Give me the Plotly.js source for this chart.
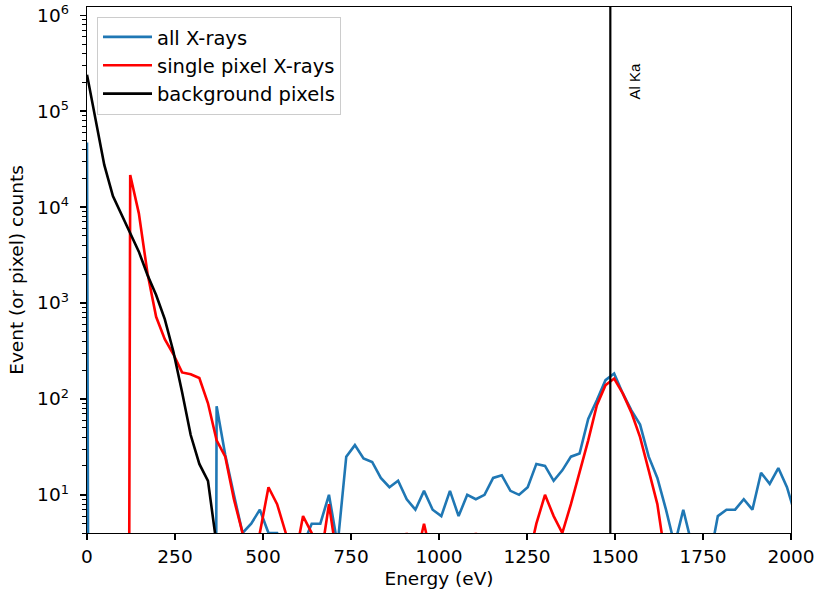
<!DOCTYPE html>
<html>
<head>
<meta charset="utf-8">
<script src="https://cdn.plot.ly/plotly-3.0.1.min.js"></script>
<style>
  html, body { margin: 0; padding: 0; background: #ffffff; }
  #chart { width: 815px; height: 594px; }
</style>
</head>
<body>
<div id="chart"></div>
<script>
// Energy histogram: one bin every BIN_EV electron-volts, starting at 0 eV.
const BIN_EV = 24.55;

// Counts per bin, all detected X-ray events
const allXrays = [
  47000, 0, 0, 0, 0, 0, 0, 0, 0, 0,
  0, 0, 0, 0, 0, 84, 26, 10, 4, 5,
  7, 4, 4, 2, 2, 3, 5, 5, 10, 3,
  25, 33, 24, 22, 15, 12, 14, 9, 7, 11,
  7, 6, 11, 6, 10, 9, 10, 15, 16, 11,
  10, 12, 21, 20, 14, 18, 25, 27, 62, 97,
  157, 184, 114, 76, 54, 25, 15, 7, 3, 7,
  3, 2, 2, 6, 7, 7, 9, 7, 17, 13,
  19, 12, 6
];

// Counts per bin, single pixel X-ray events
const singlePixel = [
  0, 0, 0, 0, 0, 21600, 8600, 2040, 718, 420,
  292, 189, 181, 165, 90, 37, 25, 9, 4, 1,
  4, 12, 8, 4, 2, 6, 4, 2, 8, 2,
  1, 2, 1, 2, 1, 1, 2, 4, 2, 5,
  2, 1, 2, 1, 2, 4, 2, 1, 1, 2,
  1, 2, 5, 10, 6, 4, 8, 17, 37, 86,
  139, 163, 114, 72, 40, 18, 8, 2, 0, 0,
  0, 0, 0, 0, 0, 0, 0, 0, 0, 0,
  0, 0, 0
];

// Counts per bin, background pixels
const background = [
  240000, 85000, 27500, 13000, 8300, 5500, 3430, 1960, 1210, 680,
  310, 118, 42, 21, 14, 3, 0, 0, 0, 0,
  0, 0, 0, 0, 0, 0, 0, 0, 0, 0,
  0, 0, 0, 0, 0, 0, 0, 0, 0, 0,
  0, 0, 0, 0, 0, 0, 0, 0, 0, 0,
  0, 0, 0, 0, 0, 0, 0, 0, 0, 0,
  0, 0, 0, 0, 0, 0, 0, 0, 0, 0,
  0, 0, 0, 0, 0, 0, 0, 0, 0, 0,
  0, 0, 0
];

const seriesNames = ['all X-rays', 'single pixel X-rays', 'background pixels'];
const seriesColors = ['#1f77b4', '#ff0000', '#000000'];

// Reference emission line
const AL_KA_EV = 1486.7;
const AL_KA_LABEL = 'Al Ka';

const xTickVals = [0, 250, 500, 750, 1000, 1250, 1500, 1750, 2000];
const yTickVals = [10, 100, 1000, 10000, 100000, 1000000];
const yTickText = ['10<sup>1</sup>', '10<sup>2</sup>', '10<sup>3</sup>',
                   '10<sup>4</sup>', '10<sup>5</sup>', '10<sup>6</sup>'];

// Empty bins cannot sit on a log axis; send them far below the visible
// range so the line drops straight out of the frame.
const EMPTY_FLOOR = 1e-30;
const toLogSafe = v => (v > 0 ? v : EMPTY_FLOOR);

const energy = allXrays.map((_, i) => i * BIN_EV);

const FONT = 'DejaVu Sans, sans-serif';

const traces = [allXrays, singlePixel, background].map((counts, i) => ({
  type: 'scatter',
  mode: 'lines',
  x: energy,
  y: counts.map(toLogSafe),
  name: seriesNames[i],
  legendgroup: 'g' + i,
  line: { color: seriesColors[i], width: 2.6 },
  cliponaxis: true,
  hoverinfo: 'x+y+name'
}));

const layout = {
  width: 815,
  height: 594,
  margin: { l: 87, r: 24, t: 7, b: 61, pad: 0 },
  paper_bgcolor: '#ffffff',
  plot_bgcolor: '#ffffff',
  font: { family: FONT, size: 18, color: '#000000' },
  showlegend: true,
  legend: {
    x: 0.0142, y: 0.9815, xanchor: 'left', yanchor: 'top',
    bgcolor: 'rgba(255,255,255,0.8)',
    bordercolor: '#cccccc', borderwidth: 1,
    font: { family: FONT, size: 19.5, color: '#000000' },
    itemwidth: 49,
    tracegroupgap: 4,
    traceorder: 'normal'
  },
  xaxis: {
    range: [0, 2000],
    tickmode: 'array',
    tickvals: xTickVals,
    ticks: 'outside', ticklen: 6, tickwidth: 1.4, tickcolor: '#000000',
    showline: true, mirror: true, linecolor: '#000000', linewidth: 1.4,
    showgrid: false, zeroline: false,
    tickfont: { family: FONT, size: 18.5, color: '#000000' },
    title: { text: 'Energy (eV)', font: { family: FONT, size: 18.5, color: '#000000' }, standoff: 6 }
  },
  yaxis: {
    type: 'log',
    range: [Math.log10(4), 6.086],
    tickmode: 'array',
    tickvals: yTickVals,
    ticktext: yTickText,
    ticks: 'outside', ticklen: 6, tickwidth: 1.4, tickcolor: '#000000',
    ticklabelstandoff: 7,
    minor: { ticks: 'outside', ticklen: 3.5, tickwidth: 1, tickcolor: '#000000', dtick: 'D1', showgrid: false },
    showline: true, mirror: true, linecolor: '#000000', linewidth: 1.4,
    showgrid: false, zeroline: false,
    tickfont: { family: FONT, size: 18.5, color: '#000000' },
    title: { text: 'Event (or pixel) counts', font: { family: FONT, size: 18.5, color: '#000000' }, standoff: 8 }
  },
  shapes: [{
    type: 'line', xref: 'x', yref: 'paper',
    x0: AL_KA_EV, x1: AL_KA_EV, y0: 0, y1: 1,
    line: { color: '#000000', width: 2.2 }
  }],
  annotations: [{
    xref: 'x', yref: 'paper',
    x: AL_KA_EV, y: 0.898, xshift: 24,
    text: AL_KA_LABEL, textangle: -90, showarrow: false,
    font: { family: 'Liberation Sans, Arial, sans-serif', size: 15, color: '#000000' }
  }]
};

Plotly.newPlot('chart', traces, layout, { displayModeBar: false, staticPlot: true });
</script>
</body>
</html>
